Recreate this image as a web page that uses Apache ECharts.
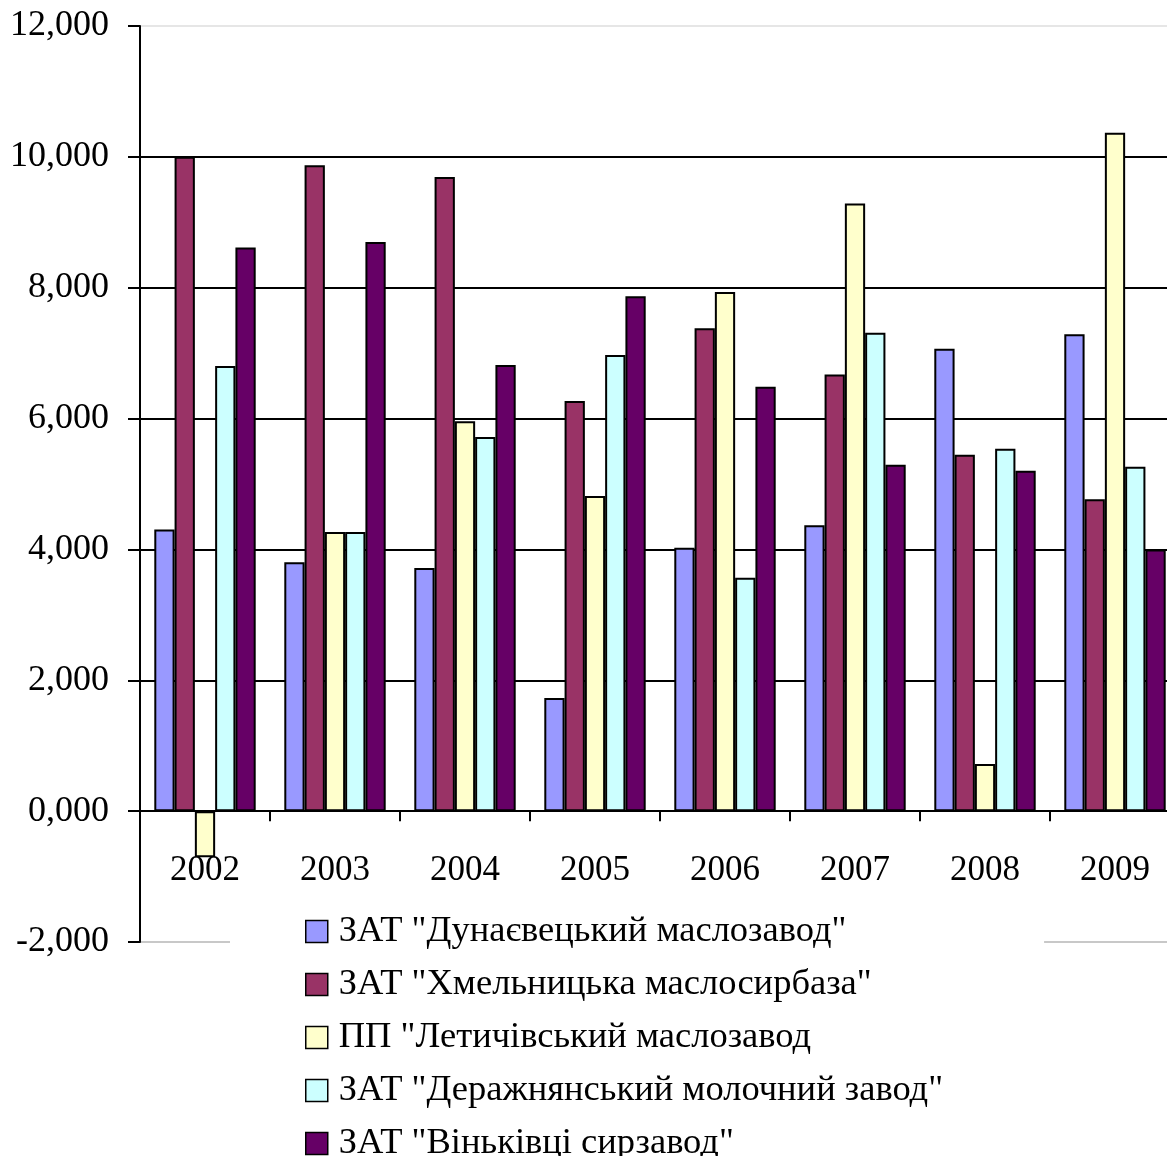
<!DOCTYPE html>
<html>
<head>
<meta charset="utf-8">
<script src="https://cdn.jsdelivr.net/npm/echarts@6/dist/echarts.min.js"></script>
<style>
html,body{margin:0;padding:0;background:#fff;}
#chart{width:1167px;height:1156px;}
</style>
</head>
<body>
<div id="chart"></div>
<script>
const categories = ['2002','2003','2004','2005','2006','2007','2008','2009'];
const seriesNames = [
  'ЗАТ "Дунаєвецький маслозавод"',
  'ЗАТ "Хмельницька маслосирбаза"',
  'ПП "Летичівський маслозавод',
  'ЗАТ "Деражнянський молочний завод"',
  'ЗАТ "Віньківці сирзавод"'
];
const dunaivtsi   = [4.306, 3.805, 3.718, 1.730, 4.026, 4.368, 7.068, 7.287];
const khmelnytsk  = [10.000, 9.873, 9.694, 6.270, 7.379, 6.674, 5.448, 4.766];
const letychiv    = [-0.705, 4.265, 5.959, 4.817, 7.934, 9.287, 0.720, 10.370];
const derazhnia   = [6.802, 4.265, 5.718, 6.970, 3.566, 7.313, 5.540, 5.265];
const vinkivtsi   = [8.613, 8.700, 6.817, 7.871, 6.485, 5.295, 5.203, 4.000];
const seriesValues = [dunaivtsi, khmelnytsk, letychiv, derazhnia, vinkivtsi];
const colors = ['#9999FF', '#993366', '#FFFFCC', '#CCFFFF', '#660066'];

const FONT = '"Liberation Serif", "Times New Roman", serif';
const chart = echarts.init(document.getElementById('chart'), null, {renderer: 'canvas'});
chart.setOption({
  animation: false,
  backgroundColor: '#ffffff',
  grid: {
    left: 140, top: 26, right: -13, bottom: 214,
    containLabel: false,
    outerBoundsMode: 'none',
    show: false
  },
  legend: {
    orient: 'vertical',
    left: 230,
    top: 903,
    height: 320,
    padding: [10, 101, 0, 75],
    backgroundColor: '#ffffff',
    itemWidth: 22,
    itemHeight: 22,
    itemGap: 16,
    icon: 'rect',
    itemStyle: {borderColor: '#000', borderWidth: 1.5},
    textStyle: {fontFamily: FONT, fontSize: 36.5, color: '#000', padding: [0,0,0,6]},
    data: seriesNames
  },
  xAxis: {
    type: 'category',
    data: categories,
    axisLine: {show: true, onZero: true, lineStyle: {color: '#000', width: 2}},
    axisTick: {show: true, length: 10, lineStyle: {color: '#000', width: 2}},
    axisLabel: {fontFamily: FONT, fontSize: 35, color: '#000', margin: -89},
    splitLine: {show: false}
  },
  yAxis: {
    type: 'value',
    min: -2, max: 12, interval: 2,
    axisLine: {show: true, lineStyle: {color: '#000', width: 2}},
    axisTick: {show: true, length: 12, lineStyle: {color: '#000', width: 2}},
    axisLabel: {
      fontFamily: FONT, fontSize: 36, color: '#000', margin: 31,
      formatter: v => v.toFixed(3).replace('.', ',')
    },
    splitLine: {
      show: true,
      lineStyle: {
        color: ['#c8c8c8', '#000', '#000', '#000', '#000', '#000', '#000', '#e6e6e6'],
        width: 2
      }
    }
  },
  series: seriesNames.map((name, i) => ({
    name: name,
    type: 'bar',
    data: seriesValues[i],
    barGap: '0%',
    barCategoryGap: '22%',
    itemStyle: {color: colors[i], borderColor: '#000', borderWidth: 2}
  }))
});
</script>
</body>
</html>
